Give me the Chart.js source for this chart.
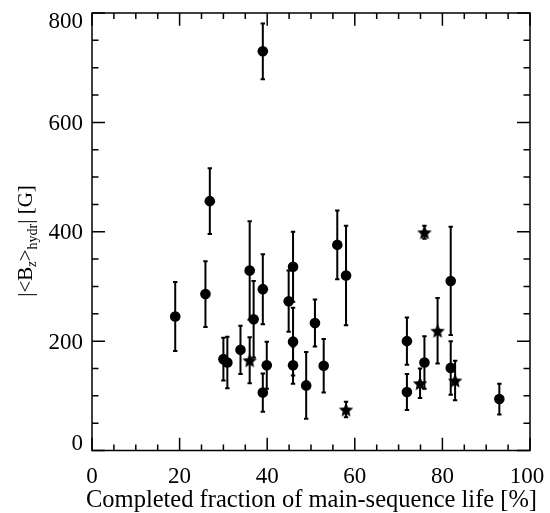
<!DOCTYPE html>
<html>
<head>
<meta charset="utf-8">
<script src="https://cdn.jsdelivr.net/npm/chart.js@4"></script>
<style>
  body { margin: 0; background: #fff; }
</style>
</head>
<body>
<canvas id="fieldChart" width="550" height="513"></canvas>
<script>
// circles: stars observed with filled circle symbols
const circleX   = [19.0, 25.9, 26.9, 30.0, 30.9, 33.9, 36.0, 36.9, 39.0, 39.0, 39.0, 39.9, 44.9, 45.9, 45.9, 45.9, 48.9, 50.9, 52.9, 56.0, 58.0, 71.9, 71.9, 75.9, 81.9, 81.9, 93.0];
const circleY   = [245, 286, 456, 167, 161, 184, 329, 240, 730, 295, 106, 156, 273, 336, 199, 156, 119, 233, 155, 376, 320, 200, 107, 161, 310, 151, 94];
const circleErr = [63, 60, 60, 39, 47, 44, 90, 70, 51, 64, 35, 43, 56, 64, 62, 34, 61, 43, 49, 63, 91, 43, 33, 48, 99, 49, 28];

// star symbols
const starX   = [36.0, 58.0, 74.9, 75.9, 78.9, 82.9];
const starY   = [165, 75, 123, 399, 219, 128];
const starErr = [42, 14, 27, 12, 60, 36];

const xTicks = [0, 20, 40, 60, 80, 100];
const yTicks = [0, 200, 400, 600, 800];

const serif = "'Liberation Serif', 'DejaVu Serif', serif";
Chart.defaults.font.family = serif;

// 5-point star used as point style
function makeStar(r) {
  const c = document.createElement("canvas");
  const s = Math.ceil(r * 2 + 2);
  c.width = s; c.height = s;
  const g = c.getContext("2d");
  g.fillStyle = "#000";
  g.beginPath();
  for (let i = 0; i < 10; i++) {
    const rad = i % 2 === 0 ? r : r * 0.46;
    const a = -Math.PI / 2 + i * Math.PI / 5;
    const px = s / 2 + rad * Math.cos(a);
    const py = s / 2 + 0.8 + rad * Math.sin(a);
    if (i === 0) g.moveTo(px, py); else g.lineTo(px, py);
  }
  g.closePath();
  g.fill();
  return c;
}
const starImg = makeStar(7.6);

const circlePts = circleX.map((x, i) => ({x: x, y: circleY[i], e: circleErr[i]}));
const starPts = starX.map((x, i) => ({x: x, y: starY[i], e: starErr[i]}));

const errorBars = {
  id: "errorBars",
  beforeDatasetsDraw(chart) {
    const {ctx, scales: {x, y}} = chart;
    ctx.save();
    ctx.strokeStyle = "#000";
    ctx.lineWidth = 2;
    chart.data.datasets.forEach(ds => {
      ds.data.forEach(p => {
        const px = x.getPixelForValue(p.x);
        const top = y.getPixelForValue(p.y + p.e);
        const bot = y.getPixelForValue(p.y - p.e);
        ctx.beginPath();
        ctx.moveTo(px, top); ctx.lineTo(px, bot);
        ctx.moveTo(px - 2.2, top); ctx.lineTo(px + 2.2, top);
        ctx.moveTo(px - 2.2, bot); ctx.lineTo(px + 2.2, bot);
        ctx.stroke();
      });
    });
    ctx.restore();
  }
};

const frame = {
  id: "frame",
  afterDraw(chart) {
    const {ctx, chartArea: a, scales: {x, y}} = chart;
    ctx.save();
    ctx.strokeStyle = "#000";
    ctx.lineWidth = 1.5;
    ctx.strokeRect(a.left, a.top, a.right - a.left, a.bottom - a.top);
    ctx.beginPath();
    for (let v = 0; v <= 100; v += 5) {
      const px = x.getPixelForValue(v);
      const len = v % 20 === 0 ? 12.7 : 6;
      ctx.moveTo(px, a.bottom); ctx.lineTo(px, a.bottom - len);
      ctx.moveTo(px, a.top); ctx.lineTo(px, a.top + len);
    }
    for (let v = 0; v <= 800; v += 50) {
      const py = y.getPixelForValue(v);
      const len = v % 200 === 0 ? 13 : 6.5;
      ctx.moveTo(a.left, py); ctx.lineTo(a.left + len, py);
      ctx.moveTo(a.right, py); ctx.lineTo(a.right - len, py);
    }
    ctx.stroke();

    ctx.fillStyle = "#000";
    ctx.font = "23px " + serif;

    // x tick labels
    ctx.textAlign = "center";
    ctx.textBaseline = "alphabetic";
    xTicks.forEach(v => {
      let px = x.getPixelForValue(v);
      if (v === 100) px -= 3;
      ctx.fillText(String(v), px, 483);
    });

    // y tick labels (end labels kept inside the axis)
    ctx.textAlign = "right";
    yTicks.forEach(v => {
      let py = y.getPixelForValue(v) + 7.7;
      if (v === 0) py = a.bottom - 0.5;
      if (v === 800) py = a.top + 15;
      ctx.fillText(String(v), 83, py);
    });

    // x title
    ctx.font = "24.5px " + serif;
    ctx.textAlign = "center";
    ctx.fillText("Completed fraction of main-sequence life [%]", (a.left + a.right) / 2 + 0.5, 507);

    // y title with subscripts, rotated
    ctx.translate(32, 241);
    ctx.rotate(-Math.PI / 2);
    const parts = [
      {t: "|<B", size: 21, dy: 0},
      {t: "z", size: 14, dy: 4},
      {t: ">", size: 21, dy: 0},
      {t: "hydr", size: 14, dy: 5},
      {t: "| [G]", size: 21, dy: 0}
    ];
    let total = 0;
    parts.forEach(p => {
      ctx.font = (p.t === "z" ? "italic " : "") + p.size + "px " + serif;
      p.w = ctx.measureText(p.t).width;
      total += p.w;
    });
    let cx = -total / 2;
    ctx.textAlign = "left";
    parts.forEach(p => {
      ctx.font = (p.t === "z" ? "italic " : "") + p.size + "px " + serif;
      ctx.fillText(p.t, cx, p.dy);
      cx += p.w;
    });
    ctx.restore();
  }
};

new Chart(document.getElementById("fieldChart"), {
  type: "scatter",
  data: {
    datasets: [
      {
        data: circlePts,
        pointStyle: "circle",
        pointRadius: 5.3,
        pointHoverRadius: 5.3,
        backgroundColor: "#000",
        borderColor: "#000",
        borderWidth: 0
      },
      {
        data: starPts,
        pointStyle: starImg,
        pointRadius: 8,
        backgroundColor: "#000",
        borderColor: "#000"
      }
    ]
  },
  options: {
    responsive: false,
    animation: false,
    layout: { padding: { left: 0, right: 20, top: 13, bottom: 0 } },
    scales: {
      x: {
        type: "linear",
        min: 0,
        max: 100,
        afterBuildTicks: s => { s.ticks = xTicks.map(v => ({value: v})); },
        afterFit: s => { s.height = 62.5; },
        grid: { display: false, drawTicks: false },
        border: { display: false },
        ticks: { display: false }
      },
      y: {
        type: "linear",
        min: 0,
        max: 800,
        afterBuildTicks: s => { s.ticks = yTicks.map(v => ({value: v})); },
        afterFit: s => { s.width = 92; },
        grid: { display: false, drawTicks: false },
        border: { display: false },
        ticks: { display: false }
      }
    },
    plugins: {
      legend: { display: false },
      tooltip: { enabled: false }
    }
  },
  plugins: [errorBars, frame]
});
</script>
</body>
</html>
